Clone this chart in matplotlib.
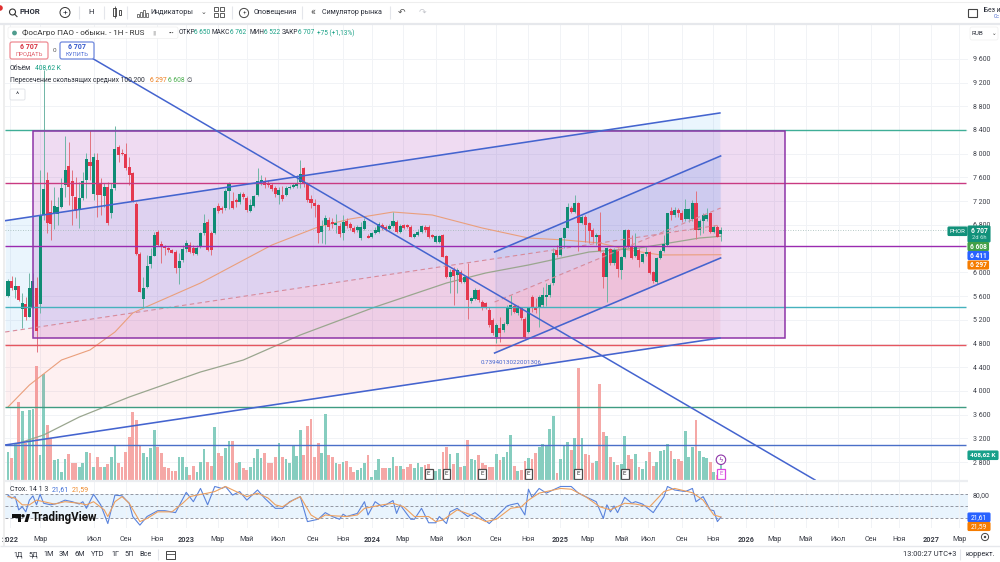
import matplotlib
matplotlib.use("Agg")
import matplotlib.pyplot as plt
from matplotlib.patches import Rectangle, FancyBboxPatch, Circle, Polygon

plt.rcParams["font.family"] = ["Roboto", "DejaVu Sans"]

# Weekly PHOR candles, bar 0 is January 2022
opens = [5607,5855,5703,5770,5383,5467,5253,5422,5742,5467,
         6967,7557,7024,6995,6979,7097,7473,7793,7541,7276,
         7052,7260,7557,7867,7316,7895,7501,7288,7445,6995,
         7417,8108,8007,7996,7771,7681,7153,6304,5551,5759,
         6136,6282,6686,6478,6445,6405,6377,6349,6068,6209,
         6388,6461,6405,6310,6433,6658,6855,6669,6669,7119,
         7080,7080,7378,7203,7220,7181,7321,7248,7040,7119,
         7304,7518,7529,7501,7473,7417,7304,7304,7304,7417,
         7445,7456,7529,7754,7512,7231,7175,7136,6686,6799,
         6883,6855,6798,6782,6658,6872,6815,6742,6714,6574,
         6725,6613,6591,6658,6686,6798,6770,6725,6782,6855,
         6686,6798,6798,6770,6591,6630,6686,6770,6770,6630,
         6517,6517,6630,6276,5927,6040,5955,6012,5843,5916,
         5523,5551,5703,5506,5478,5365,5197,4916,5056,5028,
         5129,5377,5433,5309,5393,5208,5000,5590,5393,5393,
         5449,5590,5618,5815,6377,6292,6574,6753,7079,7023,
         7164,6826,6939,6826,6714,6590,6630,6332,5927,6388,
         6152,6377,6040,6264,6714,6433,6276,6377,6180,6309,
         6349,6000,5843,6236,6366,6461,7040,6967,7051,7006,
         6894,6894,6894,7164,6714,6871,6894,6995,6686,6770,
         6650]
closes = [5855,5731,5770,5534,5478,5242,5742,5855,5012,6956,
          7400,6827,6816,7125,7097,7428,7726,7445,7288,7040,
          7260,7541,7906,7793,7940,7304,7304,7434,6827,7400,
          8074,7979,7990,7765,7642,7192,6304,5675,5742,6107,
          6276,6630,6461,6433,6405,6377,6332,6079,6197,6388,
          6490,6349,6321,6417,6658,6838,6377,6377,7080,7040,
          7052,7372,7501,7080,7181,7321,7265,7052,7136,7288,
          7546,7557,7473,7473,7400,7321,7389,7231,7417,7445,
          7473,7501,7658,7501,7220,7164,7119,6658,6782,6911,
          6759,6815,6827,6647,6855,6782,6742,6686,6759,6759,
          6872,6585,6658,6714,6815,6742,6725,6782,6872,6686,
          6782,6742,6759,6602,6647,6686,6782,6714,6602,6591,
          6613,6613,6265,5916,6012,5939,6040,5843,5927,5534,
          5562,5703,5534,5394,5394,5113,4983,5113,4983,5129,
          5410,5450,5337,5410,5225,4916,5393,5393,5365,5590,
          5618,5618,5787,6332,6292,6574,6742,7096,7023,7164,
          6826,6928,6798,6703,6590,6630,6366,5927,6405,6152,
          6377,6051,6253,6714,6433,6236,6444,6208,6309,6349,
          5995,5854,6236,6366,6478,6995,6967,7051,7006,6883,
          7062,7062,7164,6714,6871,6967,6967,6686,6770,6602,
          6707]
highs = [5883,5939,5928,5770,5647,5590,5995,5984,5928,7726,
         9412,7698,7220,7445,7276,7585,8299,8204,7726,7614,
         7529,7698,8007,8400,8007,8007,7585,7501,7529,7501,
         8468,8147,8074,8187,7951,7698,7192,6349,5928,6293,
         6405,6686,6714,6535,6461,6422,6388,6377,6321,6461,
         6546,6518,6461,6461,6686,6979,6894,6703,7108,7164,
         7119,7400,7529,7361,7248,7361,7361,7288,7231,7305,
         7754,7642,7602,7557,7512,7456,7445,7456,7456,7473,
         7501,7642,7895,7782,7529,7304,7231,7153,6883,6967,
         6928,6911,6984,6827,6967,6911,6855,6782,6798,6855,
         6911,6647,6686,6759,6855,6838,6798,6815,7023,6883,
         6815,6815,6815,6798,6669,6725,6798,6798,6798,6647,
         6630,6630,6647,6293,6051,6096,6068,6040,5955,6152,
         5590,5731,5714,5534,5506,5410,5225,5150,5253,5169,
         5450,5618,5467,5450,5422,5242,5422,5618,5562,5618,
         5759,5826,5815,6405,6461,6602,6770,7164,7119,7304,
         7192,6967,6967,6854,6742,6658,7012,6366,6433,6405,
         6405,6405,6276,6725,6725,6630,6658,6405,6332,6433,
         6366,6028,6264,6388,6630,7006,7107,7107,7079,7051,
         7231,7079,7220,7371,6894,6995,7079,7006,6798,6798,
         6762]
lows = [5590,5703,5562,5520,5056,5197,5242,5394,4650,5309,
        6883,6658,6546,6726,6799,7080,7276,7136,6799,6911,
        6742,7220,7248,7557,7220,6939,6967,7108,6799,6911,
        7389,7866,7979,7726,7473,7192,6293,5664,5394,5731,
        6068,6276,6445,6152,6293,6349,6321,5984,5804,6181,
        6349,6321,6293,6293,6405,6630,6366,6293,6647,6995,
        7007,7052,7063,7063,7097,7153,7231,7024,7024,7097,
        7288,7473,7417,7445,7378,7276,7153,7209,7288,7400,
        7417,7417,7417,7445,7192,7080,6939,6490,6490,6478,
        6714,6742,6658,6602,6546,6742,6714,6669,6686,6546,
        6714,6574,6574,6647,6669,6714,6703,6714,6759,6669,
        6669,6725,6742,6591,6574,6613,6669,6686,6574,6574,
        6501,6501,6253,5899,5646,5450,5646,5815,5815,5208,
        5478,5534,5506,5365,5377,5084,4950,4803,4831,5000,
        5113,5281,5309,5281,5197,4888,4983,5337,5309,5084,
        5421,5433,5590,5787,6264,6276,6405,6742,6995,6995,
        6366,6815,6517,6489,6489,6461,6349,5730,5494,6124,
        6124,5927,5882,6236,6405,6219,6253,6085,6152,6276,
        5972,5826,5804,6219,6349,6444,6883,6939,6939,6854,
        6871,6854,6871,6557,6630,6658,6871,6669,6658,6590,
        6522]

# Weekly volume, thousands of shares
volumes = [463,354,600,1264,1117,600,1145,1155,1864,409,
           1733,899,681,327,338,136,338,425,273,283,
           218,273,463,436,207,382,207,207,262,382,
           572,273,218,452,709,1101,981,556,447,382,
           518,807,534,447,207,191,153,153,371,371,
           207,82,229,136,300,501,300,229,861,436,
           392,518,638,638,273,300,191,164,207,354,
           501,354,436,273,283,371,600,371,338,273,
           572,392,818,409,883,992,382,610,436,1079,
           409,382,273,262,300,316,218,136,164,191,
           273,409,55,164,343,191,191,191,371,229,
           229,174,207,256,191,273,218,245,262,136,
           147,174,463,534,425,256,436,218,229,654,
           343,327,409,283,245,207,218,420,327,382,
           463,730,229,147,164,311,354,343,447,534,
           589,578,828,1036,109,343,556,616,491,681,
           1826,692,420,409,283,316,1570,790,719,371,
           300,245,262,719,409,343,420,207,174,316,
           463,229,300,474,491,589,480,338,338,316,
           801,382,545,970,480,382,354,300,136,82,
           408.62]

# Moving averages, read at a handful of bars
ma100_bars = [0,6,15,23,30,35,40,54,74,87,96,108,119,133,146,156,166,174,183,200]
ma100_vals = [3730,4100,4522,4691,4994,5315,5450,5820,6460,6765,6900,7017,6967,6748,6579,6546,6495,6377,6293,6297]
ma200_bars = [3,10,20,34,54,66,82,103,123,134,146,163,177,194,200]
ma200_vals = [3120,3258,3561,3898,4320,4522,4944,5416,5820,5989,6124,6343,6410,6579,6608]

# Stochastic %K and %D
stoch_k_bars = [0,1,2,3,4,5,6,7,8,9,10,12,14,16,18,20,21,22,24,26,28,30,32,34,35,37,39,42,44,47,
                50,52,54,56,58,60,61,63,65,67,70,72,75,77,79,82,84,87,89,91,93,94,95,98,100,101,
                103,105,106,108,109,110,113,114,116,118,120,121,123,124,126,129,131,135,137,140,
                141,143,145,146,147,149,151,155,158,160,162,165,167,168,169,170,171,173,175,176,
                178,181,184,185,187,190,192,193,195,197,198,199,200]
stoch_k_vals = [78,70,74,40,48,35,65,76,53,80,57,53,57,65,61,55,61,44,80,53,5,78,76,57,23,1,23,38,38,33,
                85,61,95,53,100,95,100,78,87,65,91,70,44,44,61,74,10,16,33,23,16,29,23,31,61,27,
                61,48,53,64,31,53,16,16,44,7,7,23,5,35,44,23,33,5,23,50,
                53,57,27,93,72,95,83,100,100,83,74,61,18,53,35,50,33,72,57,61,
                55,33,74,100,91,87,95,61,74,40,38,10,21.61]
stoch_d_bars = [0,2,4,6,8,10,13,16,20,22,24,27,28,30,32,34,37,39,42,46,49,51,53,56,58,61,64,67,70,73,75,
                77,80,82,85,87,89,91,95,98,100,105,108,111,114,118,120,122,126,130,134,137,141,144,146,
                149,155,158,162,166,169,173,176,180,184,187,192,195,198,200]
stoch_d_vals = [74,70,53,53,65,61,55,61,57,53,61,40,23,61,74,57,10,18,35,35,57,74,78,83,87,100,87,74,83,70,53,
                48,65,74,27,16,27,25,23,27,44,53,57,48,23,23,10,14,40,27,10,16,44,48,65,
                83,95,93,74,48,40,57,55,48,87,95,84,65,27,21.59]

# Price levels and drawing tools
level_prices = [8400,7500,6450,5415,4770,3735,3090]
level_colors = ["#3fae97","#c93a82","#9a2bb0","#45b2bd","#e5565f","#3f9c82","#4a6fc8"]
box_bars, box_top, box_bottom = [7,218], 8390, 4888
chan1_bars = [-0.8,199.7]
chan1_top = [6871,8687]
chan1_mid = [4994,6798]
chan1_low = [3089,4893]
chan2_bars = [136.5,199.9]
chan2_top = [6343,7962]
chan2_mid = [5500,7085]
chan2_low = [4640,6242]
diag_bars = [23,226.4]
diag_vals = [9631,2499]
earnings_bars = [118,123,133,146,160,173]

# Time and price scales
x_ticks = [0.5,9,24.1,33.1,41.8,49.9,58.9,67,75.7,85.6,94,102.1,110.8,120.1,127.9,136.9,145.9,
           154.8,162.7,172,179.5,189,197.8,207,214.9,223.8,232.8,242.1,249.9,258.9,266.8]
x_labels = ["2022","Мар","Июл","Сен","Ноя","2023","Мар","Май","Июл","Сен","Ноя","2024","Мар","Май",
            "Июл","Сен","Ноя","2025","Мар","Май","Июл","Сен","Ноя","2026","Мар","Май","Июл","Сен",
            "Ноя","2027","Мар"]
price_ticks = [2800,3200,3600,4000,4400,4800,5200,5600,6000,6800,7200,7600,8000,8400,8800,9200,9600]

UP, DOWN = "#0f8c74", "#e5384f"
UP_VOL, DOWN_VOL = "#86cdbf", "#f5a8a6"
LINE_BLUE = "#4464cf"
W, H = 1000, 562


def pane(x0, x1, y0, y1):
    return [x0 / W, 1 - y1 / H, (x1 - x0) / W, (y1 - y0) / H]


fig = plt.figure(figsize=(10, 5.62), dpi=100, facecolor="white")
bars = list(range(len(opens)))
xlim = (-0.84, 269.3)

# Volume sits behind the price pane and shares its frame
ax = fig.add_axes(pane(5, 968, 24, 480), zorder=3)
vol = fig.add_axes(pane(5, 968, 24, 480), zorder=2)
ax.patch.set_visible(False)
ax.set_xlim(xlim)
ax.set_ylim(2499, 10187)
vol.set_xlim(xlim)
vol.set_ylim(0, 7433)
for a in (ax, vol):
    for s in a.spines.values():
        s.set_visible(False)

vol.set_xticks(x_ticks)
vol.set_xticklabels([])
vol.set_yticks([])
vol.tick_params(length=0)
vol.grid(axis="x", color="#f1f3f6", lw=0.7)
for p in price_ticks:
    vol.axhline((p - 2499) * 7433 / (10187 - 2499), color="#f1f3f6", lw=0.7, zorder=0)
vol.set_axisbelow(True)
vol.bar(bars, volumes, width=0.78,
        color=[UP_VOL if c >= o else DOWN_VOL for o, c in zip(opens, closes)], zorder=2)

# Fills of both channels and the box; the pink half stops at the lower green level
ax.fill_between(chan1_bars, chan1_mid, chan1_top, color="#2196f3", alpha=0.09, lw=0, zorder=1)
pink = ax.fill_between(chan1_bars, chan1_low, chan1_mid, color="#f23645", alpha=0.07, lw=0, zorder=1)
pink.set_clip_path(Rectangle((xlim[0], level_prices[5]), xlim[1] - xlim[0], 6000, transform=ax.transData))
ax.fill_between(chan2_bars, chan2_mid, chan2_top, color="#2196f3", alpha=0.09, lw=0, zorder=1)
ax.fill_between(chan2_bars, chan2_low, chan2_mid, color="#f23645", alpha=0.08, lw=0, zorder=1)
ax.add_patch(Rectangle((box_bars[0], box_bottom), box_bars[1] - box_bars[0], box_top - box_bottom,
                       facecolor="#a020b0", alpha=0.16, lw=0, zorder=1.2))
ax.add_patch(Rectangle((box_bars[0], box_bottom), box_bars[1] - box_bars[0], box_top - box_bottom,
                       facecolor="none", edgecolor="#8e35a8", lw=1.1, zorder=4))

# Moving averages
ax.plot(ma100_bars, ma100_vals, color="#ea9f7c", lw=0.8, zorder=2)
ax.plot(ma200_bars, ma200_vals, color="#9aa68f", lw=0.9, zorder=2)

# Candles
up = [c >= o for o, c in zip(opens, closes)]
ax.vlines(bars, lows, highs, colors=["#6fb5a6" if u else "#e2727f" for u in up], lw=0.7, zorder=3)
ax.bar(bars, [abs(c - o) for o, c in zip(opens, closes)], bottom=[min(o, c) for o, c in zip(opens, closes)],
       width=0.85, color=[UP if u else DOWN for u in up], lw=0, zorder=3.2)

# Levels and drawing tools
for price, color in zip(level_prices, level_colors):
    ax.plot([xlim[0], 268.8], [price, price], color=color, lw=1.0, zorder=3.5, solid_capstyle="butt")
for b, t_, m, l in ((chan1_bars, chan1_top, chan1_mid, chan1_low), (chan2_bars, chan2_top, chan2_mid, chan2_low)):
    ax.plot(b, t_, color=LINE_BLUE, lw=1.15, zorder=5)
    ax.plot(b, l, color=LINE_BLUE, lw=1.15, zorder=5)
    ax.plot(b, m, color="#d98a9a", lw=0.8, ls=(0, (4, 3)), zorder=3.4)
ax.plot(diag_bars, diag_vals, color=LINE_BLUE, lw=1.1, zorder=5)
ax.text(132.5, 4488, "0.7394013022001306", color="#4464cf", fontsize=4.4, ha="left", va="center", zorder=6)

# Last price guide and price scale
ax.axhline(closes[-1], color="#9fb8b4", lw=0.6, ls=(0, (1, 2)), zorder=1.5)
ax.set_xticks([])
ax.yaxis.tick_right()
ax.set_yticks(price_ticks)
ax.set_yticklabels([f"{p // 1000} {p % 1000:03d}" for p in price_ticks], fontsize=5.0, color="#3c3f48")
ax.tick_params(axis="y", length=0, pad=3.5)

# Earnings and dividend flags along the bottom of the pane
for b in earnings_bars:
    vol.text(b, 100, "E", fontsize=4.4, ha="center", va="center", color="#333333", zorder=6,
             bbox=dict(boxstyle="square,pad=0.35", fc="white", ec="#4a4a4a", lw=0.9))
vol.text(bars[-1], 100, "E", fontsize=4.4, ha="center", va="center", color="#d04ad8", zorder=6,
         bbox=dict(boxstyle="square,pad=0.35", fc="white", ec="#d94ae0", lw=0.9))
vol.text(bars[-1], 330, "ϟ", fontsize=5, ha="center", va="center", color="#8e35a8", zorder=6,
         family="DejaVu Sans", bbox=dict(boxstyle="circle,pad=0.25", fc="white", ec="#8e35a8", lw=0.8))

# Stochastic pane
st = fig.add_axes(pane(5, 968, 482, 528), zorder=2)
st.set_xlim(xlim)
st.set_ylim(-6.4, 111.5)
for s in st.spines.values():
    s.set_visible(False)
st.axhspan(20, 80, color="#e9f4fd", lw=0, zorder=0)
for lvl in (80, 50, 20):
    st.axhline(lvl, color="#858893", lw=0.6, ls=(0, (3.5, 2.5)), zorder=1)
st.plot(stoch_k_bars, stoch_k_vals, color="#5a83dc", lw=0.8, zorder=3)
st.plot(stoch_d_bars, stoch_d_vals, color="#eda05f", lw=0.8, zorder=3)
st.set_xticks(x_ticks)
st.set_xticklabels(x_labels, fontsize=5.2, color="#3c3f48")
for lab, txt in zip(st.get_xticklabels(), x_labels):
    if txt.isdigit():
        lab.set_fontweight("bold")
st.grid(axis="x", color="#f1f3f6", lw=0.7)
st.set_axisbelow(True)
st.tick_params(axis="x", length=0, pad=5.5)
st.yaxis.tick_right()
st.set_yticks([80])
st.set_yticklabels(["80,00"], fontsize=5.0, color="#3c3f48")
st.tick_params(axis="y", length=0, pad=3.5)

# Application frame, drawn in figure pixels
ui = fig.add_axes([0, 0, 1, 1], zorder=10)
ui.set_xlim(0, W)
ui.set_ylim(H, 0)
ui.axis("off")
ui.patch.set_visible(False)


def t(x, y, s, size=5.2, color="#2a2e39", ha="left", weight="normal", **kw):
    ui.text(x, y, s, fontsize=size, color=color, ha=ha, va="center", fontweight=weight, **kw)


def hline(x0, x1, y, color="#e4e6eb", lw=1.0):
    ui.plot([x0, x1], [y, y], color=color, lw=lw, solid_capstyle="butt")


def vline(x, y0, y1, color="#e4e6eb", lw=0.8):
    ui.plot([x, x], [y0, y1], color=color, lw=lw, solid_capstyle="butt")


def pill(x0, x1, y0, y1, fc, ec=None, r=1.0, lw=0.8):
    ui.add_patch(FancyBboxPatch((x0, y0), x1 - x0, y1 - y0, boxstyle=f"round,pad=0,rounding_size={r}",
                                fc=fc, ec=ec if ec else fc, lw=lw))


# Top toolbar
hline(0, 1000, 24, "#e6e8ec", 1.6)
hline(0, 1000, 2, "#eeeeee", 0.8)
ui.add_patch(Rectangle((3, 24), 2, 522, fc="#eeeeee", ec="none"))
hline(0, 1000, 546, "#e6e8ec", 1.0)
hline(5, 968, 481, "#eceef1", 1.6)
ui.add_patch(Circle((0, 8), 2.8, fc="#e03030", ec="none"))
ui.add_patch(Circle((12.5, 12), 3, fc="none", ec="#333333", lw=0.8))
ui.plot([14.6, 17], [14.2, 16.6], color="#333333", lw=0.8)
t(20, 12, "PHOR", 5.6, weight="bold")
ui.add_patch(Circle((65, 12.5), 5, fc="none", ec="#333333", lw=0.7))
t(65, 12.3, "+", 6, ha="center")
vline(79, 6, 19)
t(91, 12.3, "Н", 5.6, ha="center")
vline(104, 6, 19)
ui.add_patch(Rectangle((113, 8), 3, 8, fc="none", ec="#333333", lw=0.6))
ui.add_patch(Rectangle((118.5, 9.5), 2.5, 5, fc="none", ec="#333333", lw=0.6))
vline(114.5, 6, 18, "#333333", 0.5)
vline(127, 6, 19)
for bx, bh in ((137, 3), (140, 5), (143, 7), (146, 4)):
    ui.add_patch(Rectangle((bx, 17 - bh), 2, bh, fc="none", ec="#444444", lw=0.5))
t(150, 12.8, "Индикаторы", 5.2)
t(204, 12.3, "⌄", 5, ha="center", family="DejaVu Sans", color="#444444")
for gx, gy in ((216, 9), (222, 9), (216, 15), (222, 15)):
    ui.add_patch(Rectangle((gx - 2.4, gy - 2.4), 4.8, 4.8, fc="none", ec="#444444", lw=0.6))
vline(232, 6, 19)
ui.add_patch(Circle((244, 13), 4.6, fc="none", ec="#444444", lw=0.7))
t(244, 13, "+", 4.4, ha="center", color="#444444")
t(254, 12.8, "Оповещения", 5.2)
vline(302, 6, 19)
t(313, 12.5, "«", 7.5, ha="center", color="#444444")
t(322, 12.8, "Симулятор рынка", 5.1)
vline(390, 6, 19)
t(402, 12.5, "↶", 6.5, ha="center", family="DejaVu Sans", color="#555555")
t(422, 12.5, "↷", 6.5, ha="center", family="DejaVu Sans", color="#c4c6cc")
ui.add_patch(Rectangle((967.5, 8.5), 9, 8, fc="none", ec="#444444", lw=0.8))
t(984, 10, "Без и", 4.8)
t(993.5, 17, "Сс", 3.6, color="#4464cf")

# Chart legend
pill(8, 178, 27, 38.5, "white", "#eeeeee", r=2, lw=0.5)
ui.add_patch(Circle((14.5, 33), 2.4, fc="#4f9c8e", ec="none"))
t(22, 33, "ФосАгро ПАО - обыкн. - 1Н - RUS", 5.9, color="#333333")
t(152, 33, "▮", 4.5, color="#c8c8c8", family="DejaVu Sans")
t(171, 33, "•••", 4, ha="center", color="#444444")
GREEN_TXT = "#18a085"
t(179, 33, "ОТКР", 4.7)
t(193.5, 33, "6 650", 4.7, color=GREEN_TXT)
t(212, 33, "МАКС", 4.7)
t(230, 33, "6 762", 4.7, color=GREEN_TXT)
t(249, 33, "МИН", 4.7)
t(263.5, 33, "6 522", 4.7, color=GREEN_TXT)
t(282, 33, "ЗАКР", 4.7)
t(298, 33, "6 707", 4.7, color=GREEN_TXT)
t(317, 33, "+75 (+1,13%)", 4.7, color=GREEN_TXT)

pill(10, 48, 42, 59, "white", "#ee8b93", r=2, lw=0.9)
t(29, 47, "6 707", 5, color="#d8303f", ha="center", weight="bold")
t(29, 54, "ПРОДАТЬ", 4.2, color="#e0606b", ha="center")
t(54, 50, "0", 4.6, color="#555555", ha="center")
pill(60, 94, 42, 59, "white", "#6f88dd", r=2, lw=0.9)
t(77, 47, "6 707", 5, color="#3458cc", ha="center", weight="bold")
t(77, 54, "КУПИТЬ", 4.2, color="#4f6fd6", ha="center")
t(10, 68, "Объём", 4.9)
t(35, 68, "408,62 K", 4.9, color=GREEN_TXT)
t(10, 80.5, "Пересечение скользящих средних 100 200", 4.9)
t(150, 80.5, "6 297", 4.9, color="#ef7d1a")
t(168, 80.5, "6 608", 4.9, color="#4caf50")
t(187, 80.5, "∅", 4.5, family="DejaVu Sans")
pill(10, 25, 89, 100, "white", "#e2e4e8", r=1.5, lw=0.7)
t(17.5, 95, "^", 5.5, ha="center")

# Price scale tags
pill(948, 967, 227, 235.5, "#12917a")
t(957.5, 231.2, "PHOR", 4.3, color="white", ha="center")
pill(968, 990, 226, 242, "#12917a")
t(979, 230.8, "6 707", 4.8, color="white", ha="center", weight="bold")
t(979, 237.6, "2d 6h", 4.2, color="#c9ece5", ha="center")
pill(968, 988.5, 242.5, 250.5, "#43a047")
t(978.5, 246.7, "6 608", 4.8, color="white", ha="center", weight="bold")
pill(968, 988.5, 251.5, 259.5, "#2962ff")
t(978.5, 255.7, "6 411", 4.8, color="white", ha="center", weight="bold")
pill(968, 988.5, 261, 269, "#f57c00")
t(978.5, 265.2, "6 297", 4.8, color="white", ha="center", weight="bold")
pill(968, 998, 451, 459.5, "#17a08a")
t(983, 455.3, "408,62 K", 4.6, color="white", ha="center", weight="bold")
pill(968, 990, 513, 521.5, "#2962ff")
t(979, 517.3, "21,61", 4.8, color="white", ha="center")
pill(968, 990, 522.5, 530.5, "#f57c00")
t(979, 526.6, "21,59", 4.8, color="white", ha="center")
pill(970, 998, 27, 40, "white", "#eeeeee", r=2, lw=0.5)
t(972, 33.5, "RUB", 4.6)
t(994, 33.3, "⌄", 4, ha="center", family="DejaVu Sans", color="#444444")

# Stochastic legend and logo
t(10, 489.5, "Стох. 14 1 3", 5.0)
t(52, 489.5, "21,61", 5.0, color="#3f6fd8")
t(72, 489.5, "21,59", 5.0, color="#ef8a2a")
ui.add_patch(Polygon([(12, 514), (21, 514), (21, 522), (17.5, 522), (17.5, 517.5), (12, 517.5)], fc="#111111", ec="none"))
ui.add_patch(Circle((23, 515.8), 1.7, fc="#111111", ec="none"))
ui.add_patch(Polygon([(24.5, 522), (26.8, 514), (30, 514), (27.8, 522)], fc="#111111", ec="none"))
t(32, 518, "TradingView", 8.3, color="#111111", weight="bold")

# Bottom toolbar
for x, s in zip((18, 33, 49, 64, 80, 98, 115, 129, 146), ("1Д", "5Д", "1М", "3М", "6М", "YTD", "1Г", "5Л", "Все")):
    t(x, 555, s, 5.2, ha="center")
vline(158, 549, 560)
ui.add_patch(Rectangle((166, 551), 8.5, 8, fc="none", ec="#444444", lw=0.7))
hline(166, 174.5, 553.5, "#444444", 0.6)
t(903, 555, "13:00:27 UTC+3", 5.4)
vline(960, 549, 560)
t(966, 555, "коррект.", 5.2)
ui.add_patch(Circle((985, 537), 3.6, fc="none", ec="#444444", lw=0.7))
ui.add_patch(Circle((985, 537), 1.2, fc="#444444", ec="none"))

fig.savefig("out.png", dpi=100)
